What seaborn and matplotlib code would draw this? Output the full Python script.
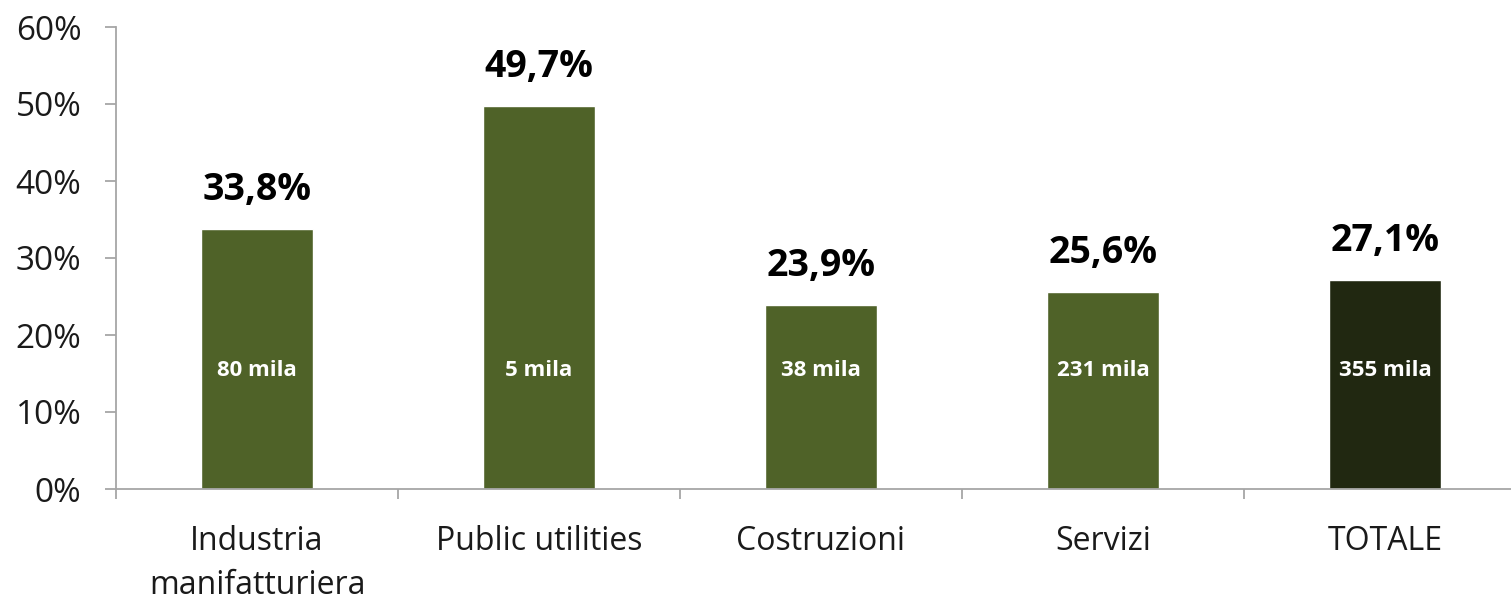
import matplotlib
matplotlib.use("Agg")
import matplotlib.pyplot as plt
import seaborn as sns
import pandas as pd
from matplotlib.ticker import FuncFormatter, FixedLocator

categories = ["Industria\nmanifatturiera", "Public utilities", "Costruzioni", "Servizi", "TOTALE"]
values = [33.8, 49.7, 23.9, 25.6, 27.1]
value_labels = ["33,8%", "49,7%", "23,9%", "25,6%", "27,1%"]
inner_labels = ["80 mila", "5 mila", "38 mila", "231 mila", "355 mila"]
colors = ["#4F6228", "#4F6228", "#4F6228", "#4F6228", "#212811"]

sns.set_theme(style="white")
plt.rcParams['font.family'] = ['Open Sans', 'DejaVu Sans']

df = pd.DataFrame({"cat": categories, "val": values})

fig = plt.figure(figsize=(15.11, 6.0), dpi=100)
ax = fig.add_axes([116/1511, 111/600, (1511-116)/1511, 462/600])

sns.barplot(data=df, x="cat", y="val", hue="cat", palette=colors, legend=False,
            width=0.4, ax=ax, saturation=1)

ax.set_ylim(0, 60)
ax.set_xlim(-0.5, 4.5 - 15/282)
ax.set_yticks(range(0, 61, 10))
ax.yaxis.set_major_formatter(FuncFormatter(lambda v, p: f"{int(v)}%"))
ax.set_xlabel("")
ax.set_ylabel("")

for s in ["top", "right"]:
    ax.spines[s].set_visible(False)
for s in ["left", "bottom"]:
    ax.spines[s].set_color("#A6A6A6")
    ax.spines[s].set_linewidth(1.3)

ax.tick_params(axis="y", which="major", length=8, width=1.3, color="#A6A6A6",
               labelsize=24, pad=17, left=True, labelcolor="#1a1a1a")
ax.tick_params(axis="x", which="major", length=0, labelsize=23, pad=26, labelcolor="#1a1a1a")
for lbl in ax.get_xticklabels():
    lbl.set_linespacing(1.45)
ax.xaxis.set_minor_locator(FixedLocator([-0.5, 0.5, 1.5, 2.5, 3.5]))
ax.tick_params(axis="x", which="minor", length=7, width=1.3, color="#A6A6A6", bottom=True)

for i, (v, vl, il) in enumerate(zip(values, value_labels, inner_labels)):
    ax.annotate(vl, (i, v), xytext=(0, 28), textcoords="offset points",
                ha="center", va="center", fontsize=27, fontweight="bold", color="black")
    ax.text(i, 15.4, il, ha="center", va="center", fontsize=16, fontweight="bold", color="white")

fig.savefig("out.png", dpi=100)
